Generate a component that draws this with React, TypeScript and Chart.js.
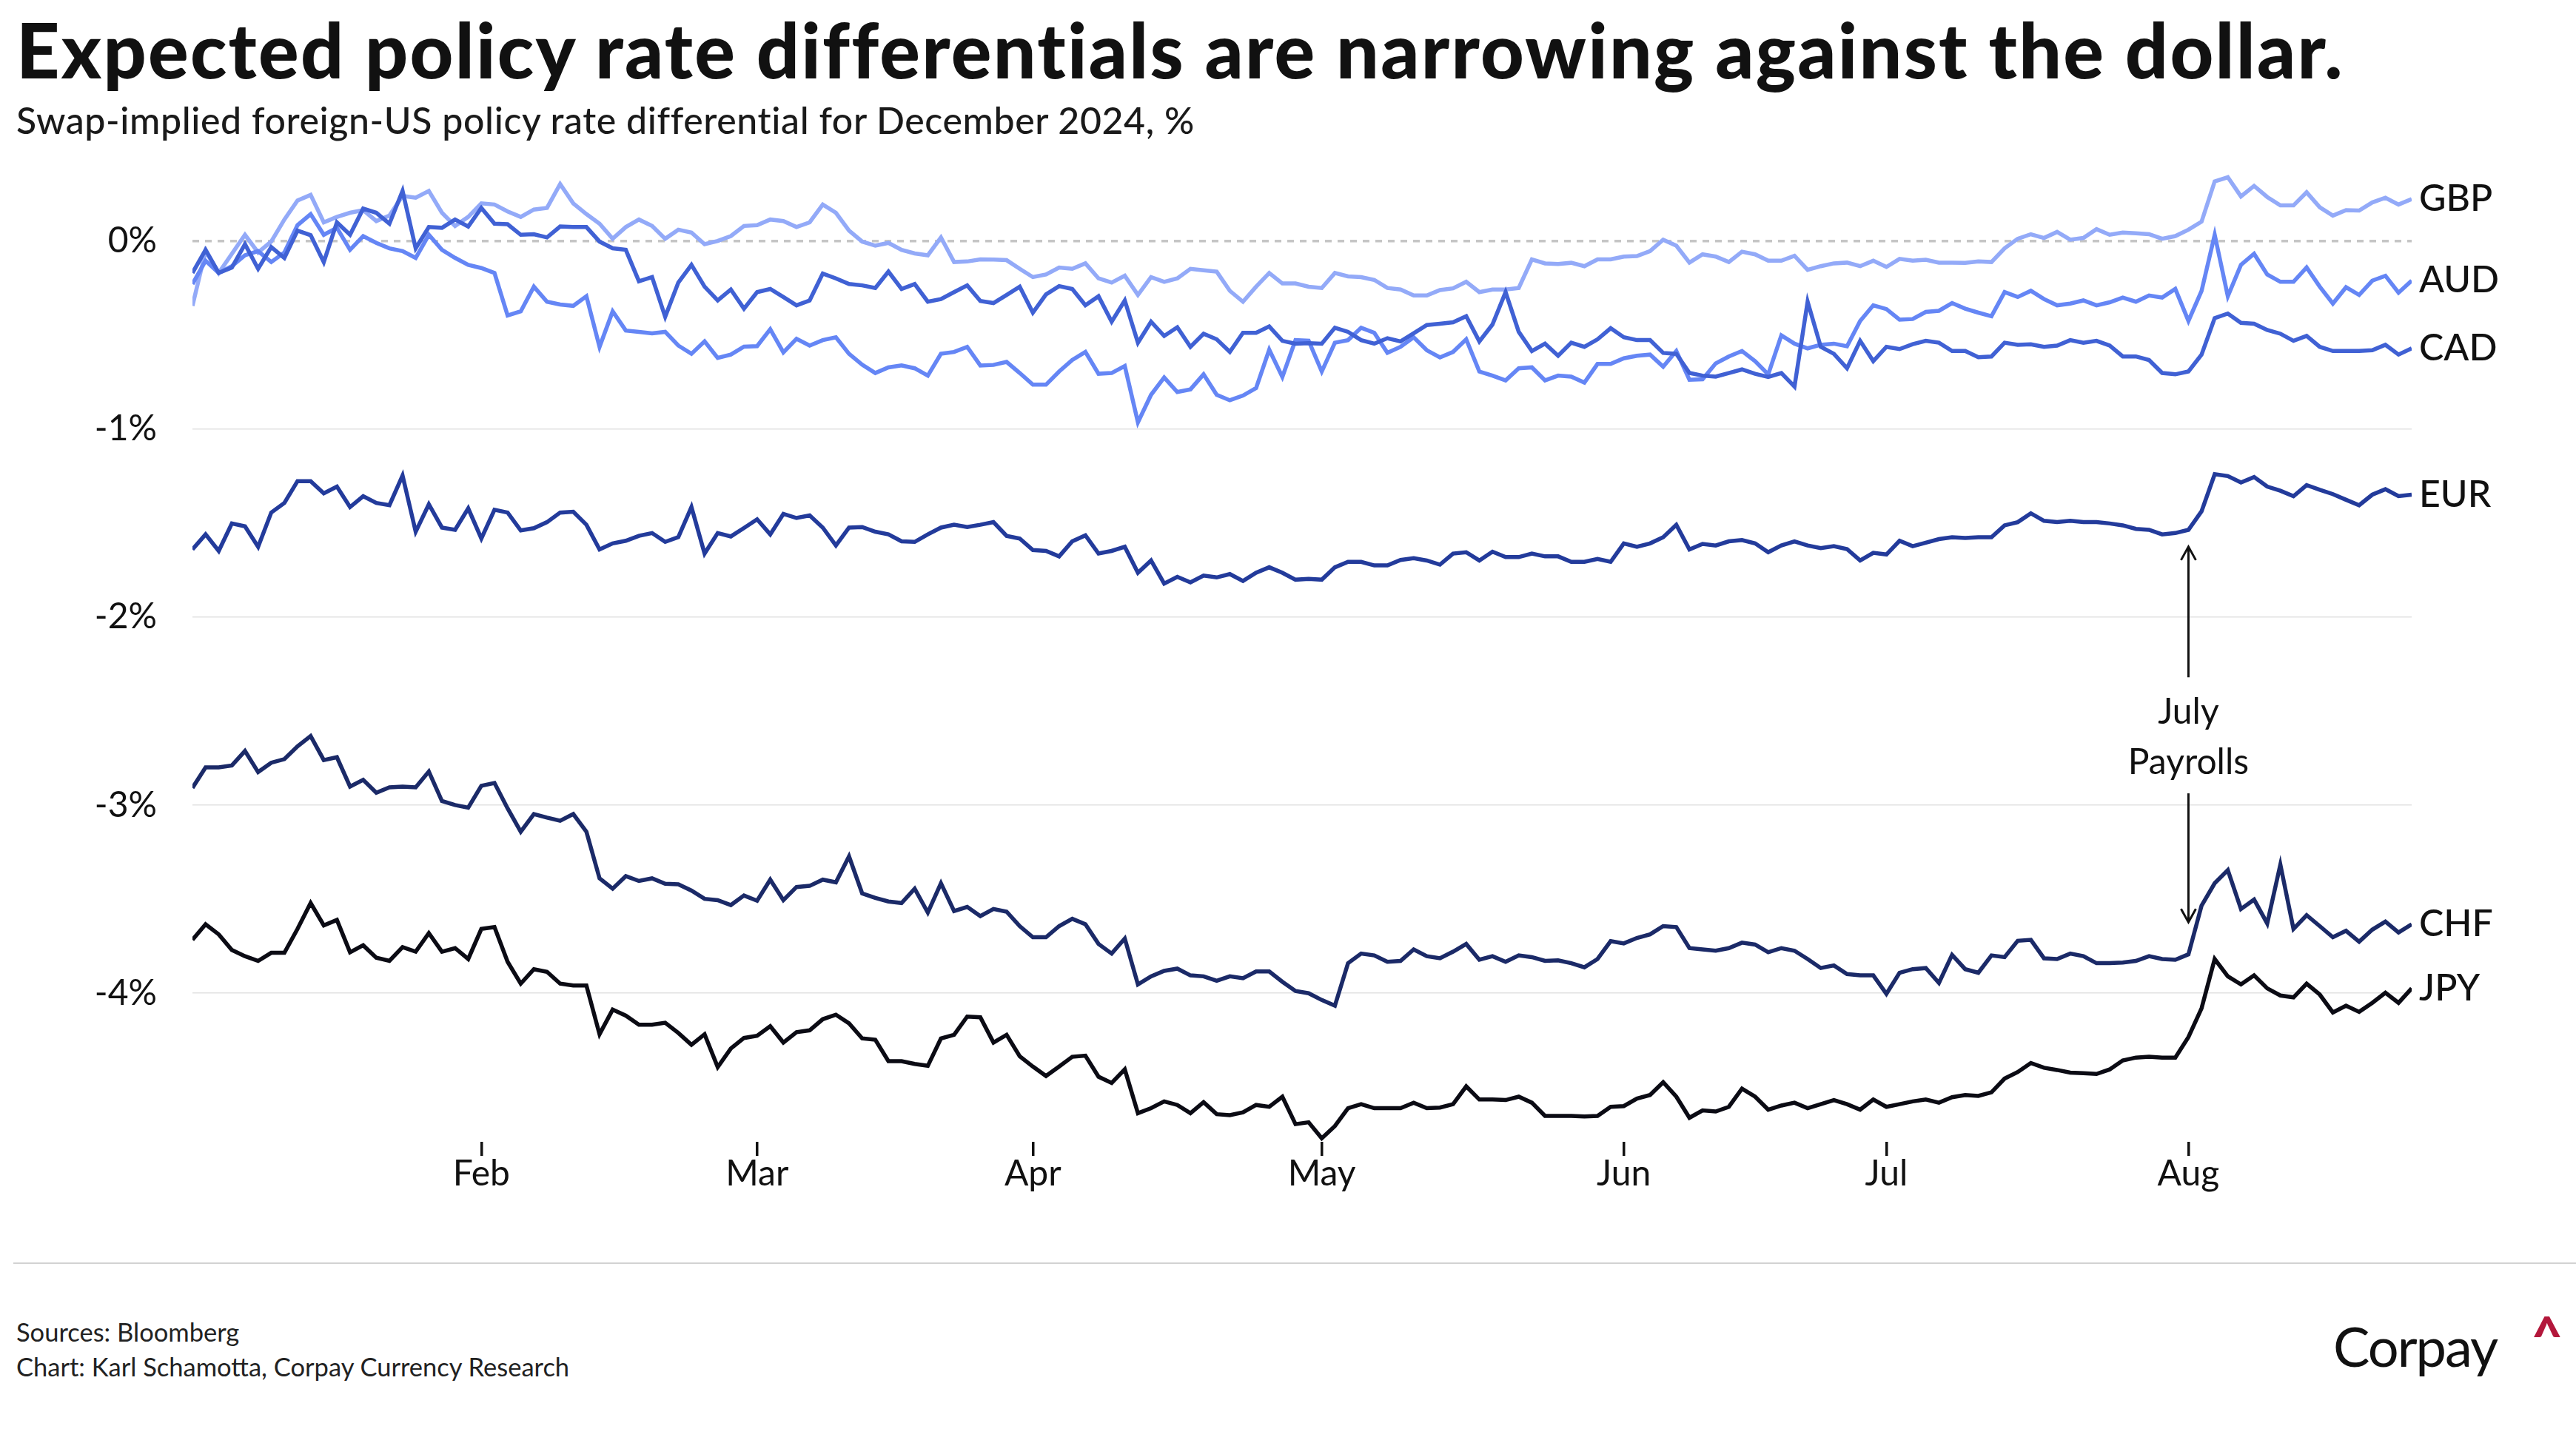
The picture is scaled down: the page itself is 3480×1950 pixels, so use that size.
import React, { useEffect, useRef } from "react";
import { Chart, registerables } from "chart.js";

Chart.register(...registerables);

// x = trading-day index from 2 Jan 2024 (weekdays) to 26 Aug 2024
const monthTickIndex = [22, 43, 64, 86, 109, 129, 152];
const monthLabels = ["Feb", "Mar", "Apr", "May", "Jun", "Jul", "Aug"];
const yTickValues = [-4, -3, -2, -1, 0];

const gbp = [
  -0.345, -0.054, -0.17, -0.068, 0.033, -0.061, -0.003, 0.114, 0.215, 0.245,
  0.099, 0.128, 0.15, 0.164, 0.106, 0.135, 0.24, 0.23, 0.266, 0.15,
  0.08, 0.128, 0.2, 0.194, 0.157, 0.128, 0.167, 0.176, 0.303, 0.2,
  0.143, 0.092, 0.012, 0.074, 0.114, 0.08, 0.012, 0.06, 0.045, -0.017,
  0.0, 0.026, 0.08, 0.084, 0.114, 0.106, 0.074, 0.099, 0.194, 0.15,
  0.055, -0.003, -0.025, -0.01, -0.047, -0.066, -0.076, 0.019, -0.112, -0.109,
  -0.098, -0.099, -0.102, -0.148, -0.192, -0.178, -0.141, -0.148, -0.119, -0.199,
  -0.221, -0.185, -0.287, -0.192, -0.217, -0.199, -0.148, -0.156, -0.163, -0.265,
  -0.323, -0.243, -0.17, -0.226, -0.226, -0.243, -0.25, -0.17, -0.188, -0.192,
  -0.207, -0.25, -0.258, -0.29, -0.29, -0.261, -0.252, -0.217, -0.272, -0.258,
  -0.258, -0.25, -0.098, -0.119, -0.122, -0.116, -0.134, -0.098, -0.098, -0.083,
  -0.08, -0.054, 0.007, -0.025, -0.115, -0.071, -0.083, -0.112, -0.057, -0.071,
  -0.105, -0.105, -0.079, -0.153, -0.134, -0.119, -0.115, -0.134, -0.105, -0.138,
  -0.095, -0.105, -0.1, -0.115, -0.115, -0.116, -0.109, -0.112, -0.039, 0.012,
  0.036, 0.016, 0.048, 0.007, 0.016, 0.063, 0.033, 0.045, 0.041, 0.036,
  0.012, 0.026, 0.06, 0.103, 0.317, 0.339, 0.237, 0.293, 0.234, 0.189,
  0.189, 0.259, 0.179, 0.135, 0.164, 0.162, 0.205, 0.23, 0.194, 0.223,
];

const aud = [
  -0.229, -0.105, -0.17, -0.134, -0.076, -0.054, -0.112, -0.061, 0.084, 0.143,
  0.033, 0.07, -0.047, 0.026, -0.01, -0.039, -0.054, -0.09, 0.033, -0.047,
  -0.09, -0.127, -0.144, -0.17, -0.396, -0.374, -0.243, -0.323, -0.338, -0.345,
  -0.294, -0.563, -0.374, -0.476, -0.483, -0.491, -0.483, -0.556, -0.6, -0.534,
  -0.622, -0.604, -0.562, -0.559, -0.469, -0.592, -0.52, -0.556, -0.527, -0.512,
  -0.6, -0.658, -0.702, -0.672, -0.662, -0.677, -0.716, -0.6, -0.59, -0.563,
  -0.662, -0.659, -0.643, -0.702, -0.764, -0.764, -0.694, -0.633, -0.59, -0.706,
  -0.702, -0.665, -0.964, -0.818, -0.726, -0.803, -0.789, -0.709, -0.818, -0.847,
  -0.822, -0.782, -0.578, -0.723, -0.527, -0.53, -0.694, -0.541, -0.527, -0.461,
  -0.488, -0.595, -0.563, -0.512, -0.581, -0.619, -0.59, -0.523, -0.694, -0.716,
  -0.741, -0.677, -0.672, -0.741, -0.716, -0.721, -0.753, -0.654, -0.654, -0.624,
  -0.61, -0.604, -0.668, -0.585, -0.738, -0.735, -0.651, -0.614, -0.585, -0.639,
  -0.709, -0.502, -0.546, -0.571, -0.552, -0.546, -0.56, -0.425, -0.342, -0.362,
  -0.418, -0.415, -0.377, -0.371, -0.33, -0.36, -0.381, -0.4, -0.272, -0.298,
  -0.265, -0.309, -0.342, -0.333, -0.316, -0.342, -0.326, -0.301, -0.323, -0.29,
  -0.301, -0.255, -0.425, -0.265, 0.033, -0.294, -0.127, -0.068, -0.178, -0.217,
  -0.217, -0.141, -0.243, -0.333, -0.246, -0.287, -0.211, -0.185, -0.275, -0.211,
];

const cad = [
  -0.17, -0.047, -0.17, -0.141, -0.017, -0.148, -0.032, -0.09, 0.055, 0.031,
  -0.112, 0.099, 0.033, 0.172, 0.15, 0.092, 0.266, -0.039, 0.074, 0.07,
  0.114, 0.077, 0.176, 0.092, 0.089, 0.033, 0.036, 0.019, 0.077, 0.074,
  0.074, -0.003, -0.039, -0.047, -0.214, -0.192, -0.403, -0.221, -0.127, -0.243,
  -0.316, -0.258, -0.36, -0.272, -0.255, -0.298, -0.342, -0.316, -0.173, -0.199,
  -0.229, -0.236, -0.25, -0.163, -0.255, -0.229, -0.323, -0.309, -0.272, -0.236,
  -0.319, -0.33, -0.287, -0.243, -0.381, -0.284, -0.24, -0.255, -0.342, -0.294,
  -0.429, -0.316, -0.541, -0.429, -0.505, -0.459, -0.563, -0.493, -0.523, -0.59,
  -0.488, -0.488, -0.454, -0.531, -0.546, -0.543, -0.546, -0.461, -0.483, -0.527,
  -0.546, -0.517, -0.534, -0.491, -0.447, -0.44, -0.432, -0.4, -0.534, -0.444,
  -0.272, -0.483, -0.585, -0.546, -0.61, -0.541, -0.563, -0.523, -0.464, -0.512,
  -0.527, -0.527, -0.595, -0.6, -0.702, -0.716, -0.721, -0.702, -0.683, -0.706,
  -0.723, -0.702, -0.774, -0.323, -0.563, -0.6, -0.677, -0.531, -0.639, -0.563,
  -0.575, -0.549, -0.531, -0.541, -0.585, -0.585, -0.618, -0.614, -0.541, -0.552,
  -0.549, -0.563, -0.556, -0.527, -0.541, -0.531, -0.556, -0.614, -0.614, -0.633,
  -0.702, -0.709, -0.694, -0.604, -0.41, -0.386, -0.435, -0.44, -0.473, -0.493,
  -0.531, -0.505, -0.563, -0.585, -0.585, -0.585, -0.581, -0.552, -0.604, -0.571,
];

const eur = [
  -1.64, -1.56, -1.648, -1.502, -1.517, -1.626, -1.444, -1.393, -1.277, -1.277,
  -1.342, -1.306, -1.415, -1.357, -1.393, -1.405, -1.247, -1.546, -1.4, -1.524,
  -1.536, -1.422, -1.582, -1.429, -1.444, -1.539, -1.527, -1.495, -1.444, -1.44,
  -1.509, -1.64, -1.608, -1.594, -1.568, -1.553, -1.6, -1.575, -1.415, -1.662,
  -1.553, -1.571, -1.526, -1.48, -1.56, -1.451, -1.473, -1.459, -1.524, -1.619,
  -1.524, -1.521, -1.546, -1.56, -1.597, -1.6, -1.56, -1.524, -1.509, -1.521,
  -1.509, -1.495, -1.568, -1.582, -1.643, -1.648, -1.677, -1.597, -1.565, -1.662,
  -1.648, -1.626, -1.764, -1.699, -1.822, -1.786, -1.815, -1.779, -1.789, -1.771,
  -1.808, -1.764, -1.735, -1.764, -1.801, -1.797, -1.801, -1.735, -1.706, -1.706,
  -1.725, -1.725, -1.696, -1.687, -1.699, -1.721, -1.662, -1.655, -1.699, -1.652,
  -1.681, -1.681, -1.662, -1.677, -1.677, -1.706, -1.706, -1.691, -1.706, -1.608,
  -1.626, -1.608, -1.575, -1.509, -1.64, -1.611, -1.619, -1.597, -1.59, -1.608,
  -1.655, -1.619, -1.597, -1.619, -1.633, -1.623, -1.638, -1.699, -1.658, -1.667,
  -1.594, -1.623, -1.604, -1.585, -1.575, -1.579, -1.575, -1.575, -1.512, -1.495,
  -1.448, -1.488, -1.495, -1.488, -1.495, -1.495, -1.502, -1.512, -1.531, -1.536,
  -1.56, -1.553, -1.536, -1.437, -1.24, -1.25, -1.284, -1.255, -1.306, -1.328,
  -1.357, -1.298, -1.323, -1.346, -1.376, -1.405, -1.349, -1.32, -1.357, -1.349,
];

const chf = [
  -2.908, -2.799, -2.799, -2.789, -2.712, -2.824, -2.774, -2.755, -2.687, -2.632,
  -2.76, -2.745, -2.901, -2.865, -2.934, -2.905, -2.901, -2.905, -2.821, -2.978,
  -2.999, -3.013, -2.897, -2.882, -3.017, -3.141, -3.047, -3.066, -3.083, -3.047,
  -3.141, -3.389, -3.444, -3.377, -3.403, -3.389, -3.418, -3.421, -3.454, -3.498,
  -3.505, -3.531, -3.48, -3.508, -3.396, -3.505, -3.435, -3.429, -3.396, -3.41,
  -3.272, -3.469, -3.493, -3.512, -3.52, -3.444, -3.571, -3.415, -3.563, -3.541,
  -3.59, -3.552, -3.566, -3.643, -3.702, -3.702, -3.643, -3.604, -3.633, -3.738,
  -3.789, -3.709, -3.953, -3.91, -3.881, -3.869, -3.905, -3.91, -3.934, -3.91,
  -3.92, -3.884, -3.884, -3.939, -3.988, -4.0, -4.036, -4.066, -3.84, -3.789,
  -3.799, -3.833, -3.828, -3.767, -3.803, -3.814, -3.779, -3.738, -3.822, -3.803,
  -3.833, -3.799, -3.808, -3.828, -3.825, -3.84, -3.862, -3.818, -3.723, -3.735,
  -3.706, -3.687, -3.643, -3.648, -3.76, -3.767, -3.774, -3.76, -3.731, -3.741,
  -3.782, -3.76, -3.774, -3.818, -3.866, -3.852, -3.898, -3.905, -3.905, -4.003,
  -3.891, -3.872, -3.866, -3.945, -3.796, -3.872, -3.891, -3.799, -3.808, -3.721,
  -3.716, -3.814, -3.818, -3.789, -3.803, -3.84, -3.84, -3.837, -3.828, -3.803,
  -3.818, -3.822, -3.793, -3.534, -3.415, -3.345, -3.552, -3.502, -3.629, -3.316,
  -3.658, -3.585, -3.643, -3.702, -3.668, -3.726, -3.662, -3.619, -3.677, -3.633,
];

const jpy = [
  -3.716, -3.633, -3.687, -3.77, -3.803, -3.828, -3.785, -3.785, -3.658, -3.52,
  -3.639, -3.61, -3.782, -3.745, -3.811, -3.828, -3.755, -3.779, -3.68, -3.779,
  -3.76, -3.818, -3.658, -3.648, -3.833, -3.949, -3.872, -3.886, -3.949, -3.959,
  -3.959, -4.218, -4.087, -4.119, -4.167, -4.167, -4.157, -4.211, -4.274, -4.218,
  -4.393, -4.294, -4.238, -4.226, -4.175, -4.262, -4.207, -4.197, -4.138, -4.114,
  -4.16, -4.24, -4.247, -4.361, -4.361, -4.376, -4.386, -4.24, -4.221, -4.124,
  -4.128, -4.262, -4.221, -4.335, -4.39, -4.44, -4.39, -4.338, -4.332, -4.444,
  -4.477, -4.405, -4.638, -4.611, -4.575, -4.594, -4.638, -4.579, -4.643, -4.648,
  -4.633, -4.594, -4.604, -4.55, -4.696, -4.686, -4.771, -4.706, -4.611, -4.59,
  -4.611, -4.611, -4.611, -4.582, -4.611, -4.608, -4.59, -4.495, -4.565, -4.565,
  -4.568, -4.55, -4.582, -4.652, -4.652, -4.652, -4.655, -4.652, -4.604, -4.6,
  -4.56, -4.541, -4.473, -4.55, -4.662, -4.623, -4.629, -4.604, -4.507, -4.55,
  -4.619, -4.597, -4.582, -4.611, -4.59, -4.568, -4.59, -4.619, -4.565, -4.604,
  -4.59, -4.575, -4.565, -4.582, -4.553, -4.541, -4.546, -4.527, -4.454, -4.419,
  -4.371, -4.396, -4.408, -4.422, -4.425, -4.429, -4.405, -4.357, -4.342, -4.338,
  -4.342, -4.342, -4.233, -4.08, -3.818, -3.91, -3.953, -3.905, -3.974, -4.012,
  -4.022, -3.949, -4.007, -4.102, -4.066, -4.099, -4.051, -3.997, -4.051, -3.974,
];

const seriesNames = ["JPY", "CHF", "EUR", "CAD", "AUD", "GBP"];
const seriesValues = [jpy, chf, eur, cad, aud, gbp];
const seriesColors = ["#0b0b14", "#1b2a68", "#233b9b", "#4061d4", "#6586f5", "#93aaf8"];

// annotation (x = trading-day index, y = %)
const annotIndex = 152;
const annotLines = ["July", "Payrolls"];
const annotTextY = [-2.567, -2.835];
const upArrow = [-2.32, -1.626];
const downArrow = [-2.937, -3.622];

const FONT = "Lato, 'Noto Sans', sans-serif";

const endLabelsPlugin = {
  id: "endLabels",
  afterDatasetsDraw(chart: any) {
    const { ctx, chartArea } = chart;
    ctx.save();
    ctx.font = `500 50px ${FONT}`;
    ctx.fillStyle = "#111111";
    ctx.textAlign = "left";
    ctx.textBaseline = "middle";
    chart.data.datasets.forEach((ds: any, i: number) => {
      if (!ds.endLabel) return;
      const meta = chart.getDatasetMeta(i);
      const pt = meta.data[meta.data.length - 1];
      if (pt) ctx.fillText(ds.endLabel, chartArea.right + 10, pt.y);
    });
    ctx.restore();
  },
};

const annotationPlugin = {
  id: "payrollsNote",
  afterDatasetsDraw(chart: any) {
    const { ctx } = chart;
    const xs = chart.scales.x;
    const ys = chart.scales.y;
    const x = xs.getPixelForValue(annotIndex);
    ctx.save();
    ctx.strokeStyle = "#111111";
    ctx.lineWidth = 3;
    ctx.lineCap = "butt";
    const arrow = (from: number, to: number) => {
      const y0 = ys.getPixelForValue(from);
      const y1 = ys.getPixelForValue(to);
      const dir = y1 > y0 ? 1 : -1;
      ctx.beginPath();
      ctx.moveTo(x, y0);
      ctx.lineTo(x, y1);
      ctx.stroke();
      ctx.beginPath();
      ctx.moveTo(x - 10, y1 - dir * 18);
      ctx.lineTo(x, y1);
      ctx.lineTo(x + 10, y1 - dir * 18);
      ctx.stroke();
    };
    arrow(upArrow[0], upArrow[1]);
    arrow(downArrow[0], downArrow[1]);
    ctx.fillStyle = "#111111";
    ctx.font = `400 48px ${FONT}`;
    ctx.textAlign = "center";
    ctx.textBaseline = "alphabetic";
    annotLines.forEach((t, i) => ctx.fillText(t, x, ys.getPixelForValue(annotTextY[i])));
    ctx.restore();
  },
};

export default function App() {
  const canvasRef = useRef<HTMLCanvasElement | null>(null);

  useEffect(() => {
    if (!canvasRef.current) return;
    const toXY = (vals: number[]) => vals.map((v, i) => ({ x: i, y: v }));
    const datasets: any[] = seriesNames.map((name, k) => ({
      label: name,
      endLabel: name,
      data: toXY(seriesValues[k]),
      borderColor: seriesColors[k],
      backgroundColor: seriesColors[k],
      borderWidth: 5.5,
      pointRadius: 0,
      tension: 0,
      fill: false,
    }));
    datasets.push({
      label: "zero",
      data: [
        { x: 0, y: 0 },
        { x: gbp.length - 1, y: 0 },
      ],
      borderColor: "#c6c6c6",
      borderWidth: 3.5,
      borderDash: [9, 8],
      pointRadius: 0,
      fill: false,
    });

    const chart = new Chart(canvasRef.current, {
      type: "line",
      data: { datasets },
      plugins: [endLabelsPlugin, annotationPlugin],
      options: {
        animation: false,
        responsive: false,
        devicePixelRatio: 1,
        events: [],
        layout: { padding: { left: 0, top: 224, right: 222, bottom: 57 } },
        plugins: { legend: { display: false }, tooltip: { enabled: false }, title: { display: false } },
        scales: {
          x: {
            type: "linear",
            min: 0,
            max: gbp.length - 1,
            afterBuildTicks: (scale: any) => {
              scale.ticks = monthTickIndex.map((v) => ({ value: v }));
            },
            afterFit: (scale: any) => {
              scale.height = 100;
            },
            ticks: {
              autoSkip: false,
              maxRotation: 0,
              padding: -4,
              color: "#111111",
              font: { family: FONT, size: 48 },
              callback: (value: any) => {
                const k = monthTickIndex.indexOf(Number(value));
                return k >= 0 ? monthLabels[k] : "";
              },
            },
            grid: {
              drawOnChartArea: false,
              drawTicks: true,
              tickLength: 19,
              color: "#111111",
              lineWidth: 3.5,
            },
            border: { display: false },
          },
          y: {
            type: "linear",
            min: -4.79,
            max: 0.4,
            afterBuildTicks: (scale: any) => {
              scale.ticks = yTickValues.map((v) => ({ value: v }));
            },
            afterFit: (scale: any) => {
              scale.width = 260;
            },
            ticks: {
              padding: 48,
              color: "#111111",
              font: { family: FONT, size: 48 },
              callback: (value: any) => `${value}%`,
            },
            grid: {
              drawTicks: false,
              lineWidth: 1.5,
              color: (ctx: any) => (ctx.tick && ctx.tick.value === 0 ? "rgba(0,0,0,0)" : "#e2e2e2"),
            },
            border: { display: false },
          },
        },
      } as any,
    });

    let alive = true;
    if ((document as any).fonts && (document as any).fonts.ready) {
      (document as any).fonts.ready.then(() => {
        if (alive) chart.update();
      });
    }
    return () => {
      alive = false;
      chart.destroy();
    };
  }, []);

  return (
    <div
      style={{
        position: "absolute",
        left: 0,
        top: 0,
        width: 3480,
        height: 1950,
        background: "#ffffff",
        overflow: "hidden",
        fontFamily: FONT,
        color: "#111111",
      }}
    >
      <canvas
        ref={canvasRef}
        width={3480}
        height={1700}
        style={{ position: "absolute", left: 0, top: 0, width: 3480, height: 1700 }}
      />
      <div
        style={{
          position: "absolute",
          left: 22,
          top: 16,
          fontSize: 102,
          lineHeight: "102px",
          fontWeight: 900,
          letterSpacing: 2.3,
          whiteSpace: "nowrap",
          color: "#111111",
        }}
      >
        Expected policy rate differentials are narrowing against the dollar.
      </div>
      <div
        style={{
          position: "absolute",
          left: 22,
          top: 137,
          fontSize: 50,
          lineHeight: "50px",
          fontWeight: 500,
          letterSpacing: 0.6,
          whiteSpace: "nowrap",
          color: "#1a1a1a",
        }}
      >
        Swap-implied foreign-US policy rate differential for December 2024, %
      </div>
      <div
        style={{ position: "absolute", left: 18, right: 0, top: 1706, height: 2, background: "#d2d2d2" }}
      />
      <div
        style={{
          position: "absolute",
          left: 22,
          top: 1783,
          fontSize: 34.5,
          lineHeight: "34.5px",
          whiteSpace: "nowrap",
          color: "#222222",
        }}
      >
        Sources: Bloomberg
      </div>
      <div
        style={{
          position: "absolute",
          left: 22,
          top: 1830,
          fontSize: 34.5,
          lineHeight: "34.5px",
          whiteSpace: "nowrap",
          color: "#222222",
        }}
      >
        Chart: Karl Schamotta, Corpay Currency Research
      </div>
      <div
        style={{
          position: "absolute",
          left: 3152,
          top: 1782,
          fontSize: 74,
          lineHeight: "74px",
          letterSpacing: -2,
          whiteSpace: "nowrap",
          color: "#111111",
        }}
      >
        Corpay
      </div>
      <div
        style={{
          position: "absolute",
          left: 3420,
          top: 1768,
          fontSize: 72,
          lineHeight: "72px",
          fontWeight: 900,
          whiteSpace: "nowrap",
          color: "#b3173b",
        }}
      >
        ^
      </div>
    </div>
  );
}
